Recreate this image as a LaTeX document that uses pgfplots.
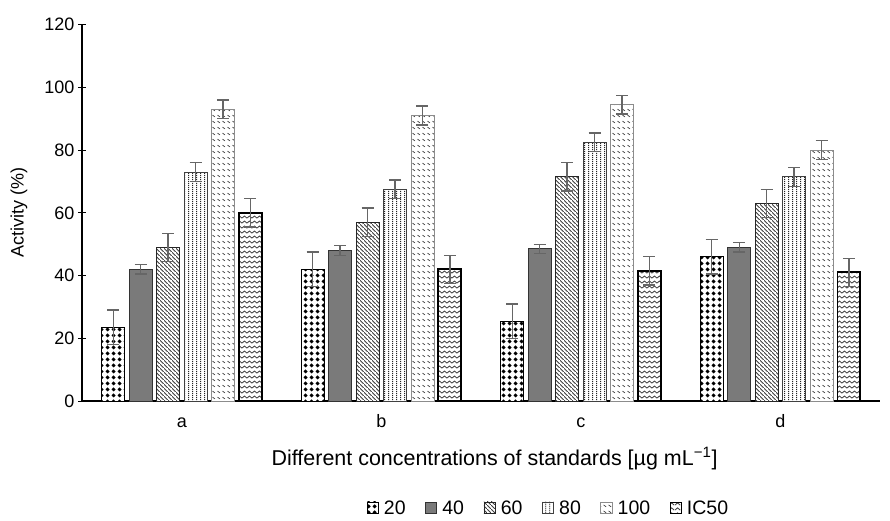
\documentclass[border=0pt]{standalone}
\usepackage{pgfplots}
\pgfplotsset{compat=1.18}
\usepackage{fontspec}
\setmainfont{Liberation Sans}
\usetikzlibrary{patterns,patterns.meta}

\tikzdeclarepattern{
  name=dots20, type=uncolored,
  bottom left={(0pt,0pt)}, top right={(3.7pt,3.7pt)}, tile size={(3.7pt,3.7pt)},
  code={\fill (1.85pt,0.4pt) -- (3.3pt,1.85pt) -- (1.85pt,3.3pt) -- (0.4pt,1.85pt) -- cycle;}
}
\tikzdeclarepattern{
  name=dash100, type=uncolored,
  bottom left={(0pt,0pt)}, top right={(3pt,4pt)}, tile size={(3pt,4pt)},
  code={\draw[line width=0.5pt] (0.4pt,3pt) -- (2.2pt,1.6pt);}
}
\tikzdeclarepattern{
  name=zig50, type=uncolored,
  bottom left={(0pt,0pt)}, top right={(3.6pt,3pt)}, tile size={(3.6pt,3pt)},
  code={\draw[line width=0.6pt] (-0.1pt,0.6pt) -- (1.8pt,2.2pt) -- (3.7pt,0.6pt);}
}
\tikzdeclarepattern{
  name=nwl60, type=uncolored,
  bottom left={(0pt,0pt)}, top right={(2.6pt,2.6pt)}, tile size={(2.6pt,2.6pt)},
  code={\draw[line width=0.6pt] (-0.5pt,3.1pt) -- (3.1pt,-0.5pt);}
}
\tikzdeclarepattern{
  name=vl80, type=uncolored,
  bottom left={(0pt,0pt)}, top right={(2.4pt,1pt)}, tile size={(2.4pt,1pt)},
  code={\draw[line width=0.6pt] (1.2pt,-0.1pt) -- (1.2pt,1.1pt);}
}

\begin{document}
\begin{tikzpicture}
\begin{axis}[
  scale only axis,
  width=532pt, height=251pt,
  xmin=-0.5, xmax=3.5,
  ymin=0, ymax=120,
  ytick={0,20,...,120},
  xtick={0,1,2,3},
  xticklabels={a,b,c,d},
  axis lines=left,
  axis line style={-, line width=0.9pt},
  major tick length=5pt,
  x tick style={draw=none},
  y tick style={black, line width=0.7pt},
  tick align=center,
  yticklabel style={font=\fontsize{12}{14}\selectfont, xshift=1pt},
  xticklabel style={font=\fontsize{12}{14}\selectfont, anchor=base, yshift=-12.5pt},
  /pgf/number format/assume math mode=true,
  ylabel={Activity (\%)},
  ylabel style={font=\fontsize{12}{14}\selectfont, at={(axis description cs:-0.079,0.5)}, anchor=center, rotate=0},
  xlabel={Different concentrations of standards [µg mL\textsuperscript{−1}]},
  xlabel style={font=\fontsize{14.3}{16}\selectfont, at={(axis description cs:0.517,-0.152)}, anchor=center},
  ybar=3pt,
  bar width=0.115,
  clip=false,
  legend style={at={(0.585,-0.285)}, anchor=center, draw=none, legend columns=6,
    font=\fontsize{13}{15}\selectfont, inner sep=0pt,
    /tikz/every odd column/.append style={column sep=1.5pt},
    /tikz/every even column/.append style={column sep=11pt}},
  legend image code/.code={\draw[#1, line width=0.5pt] (0pt,-3.2pt) rectangle (7.5pt,4.3pt);},
  error bars/y dir=both, error bars/y explicit,
  error bars/error bar style={gray!80!black, line width=0.9pt},
  error bars/error mark options={rotate=90, mark size=4pt, gray!80!black, line width=0.9pt},
]
\addplot[draw=black, line width=0.7pt, fill=white, postaction={pattern={dots20}, pattern color=black}]
  coordinates {(0,23.5) +- (0,5.5) (1,42) +- (0,5.5) (2,25.5) +- (0,5.5) (3,46) +- (0,5.5)};
\addplot[draw=black!80, line width=0.7pt, fill=black!52]
  coordinates {(0,42) +- (0,1.5) (1,48) +- (0,1.5) (2,48.5) +- (0,1.5) (3,49) +- (0,1.5)};
\addplot[draw=black!85, line width=0.7pt, fill=white, postaction={pattern={nwl60}, pattern color=black!75}]
  coordinates {(0,49) +- (0,4.5) (1,57) +- (0,4.5) (2,71.5) +- (0,4.5) (3,63) +- (0,4.5)};
\addplot[draw=black!75, line width=0.6pt, fill=white, postaction={pattern={vl80}, pattern color=black!85}]
  coordinates {(0,73) +- (0,3) (1,67.5) +- (0,3) (2,82.5) +- (0,3) (3,71.5) +- (0,3)};
\addplot[draw=black!45, line width=0.6pt, fill=white, postaction={pattern={dash100}, pattern color=black!75}]
  coordinates {(0,93) +- (0,3) (1,91) +- (0,3) (2,94.5) +- (0,3) (3,80) +- (0,3)};
\addplot[draw=black, line width=1.3pt, fill=white, postaction={pattern={zig50}, pattern color=black!75}]
  coordinates {(0,60) +- (0,4.5) (1,42) +- (0,4.5) (2,41.5) +- (0,4.5) (3,41) +- (0,4.5)};
\legend{20,40,60,80,100,IC50}
\end{axis}
\pgfresetboundingbox
\path (current axis.south west) ++(-54.7pt,-79.3pt) rectangle ++(593.3pt,346.7pt);
\end{tikzpicture}
\end{document}
